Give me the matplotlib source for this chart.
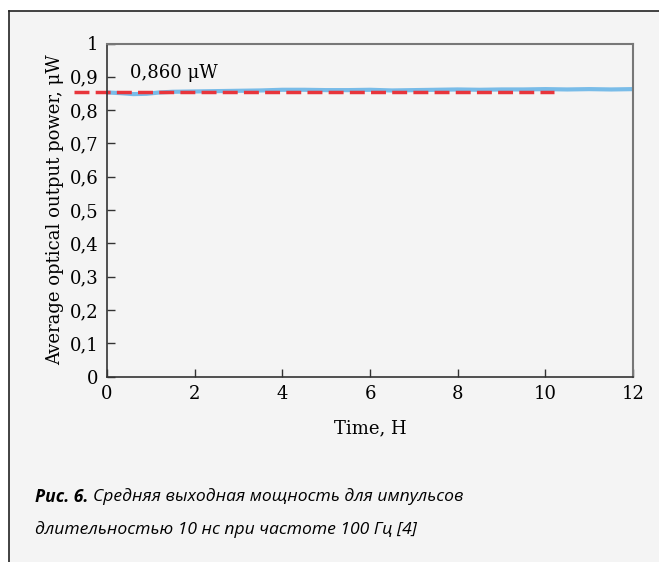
"""Средняя выходная мощность: воспроизведение рис. 6."""

import matplotlib
matplotlib.use("Agg")
import matplotlib.pyplot as plt
from matplotlib.lines import Line2D
from matplotlib.patches import Rectangle

# данные
time_h = [0, 0.3, 0.6, 0.9, 1.2, 1.5, 2, 2.5, 3, 3.5, 4, 4.5, 5, 5.5, 6, 6.5,
          7, 7.5, 8, 8.5, 9, 9.5, 10, 10.5, 11, 11.5, 12]
power = [0.853, 0.851, 0.848, 0.849, 0.853, 0.855, 0.856, 0.857, 0.858, 0.859,
         0.861, 0.861, 0.860, 0.860, 0.861, 0.859, 0.860, 0.861, 0.862, 0.861,
         0.862, 0.862, 0.863, 0.862, 0.863, 0.862, 0.863]
mean_x = [-0.75, 10.2]
mean_power = [0.855, 0.855]
mean_label = "0,860 μW"

x_ticks = [0, 2, 4, 6, 8, 10, 12]
y_ticks = [0, 0.1, 0.2, 0.3, 0.4, 0.5, 0.6, 0.7, 0.8, 0.9, 1.0]
y_tick_labels = ["0", "0,1", "0,2", "0,3", "0,4", "0,5", "0,6", "0,7", "0,8", "0,9", "1"]

BG = "#f4f4f4"
SERIF = ["DejaVu Serif"]
FS = 13

fig = plt.figure(figsize=(6.59, 5.62), dpi=100)
fig.patch.set_facecolor("white")

# серая подложка с рамкой сверху и слева
x0 = 9 / 659
y0 = 1 - 11 / 562
fig.patches.append(Rectangle((x0, 0), 1 - x0, y0, transform=fig.transFigure,
                             facecolor=BG, edgecolor="none", zorder=-5))
fig.add_artist(Line2D([x0, 1], [y0, y0], transform=fig.transFigure,
                      color="#222222", lw=1.2, zorder=-4))
fig.add_artist(Line2D([x0, x0], [0, y0], transform=fig.transFigure,
                      color="#222222", lw=1.2, zorder=-4))

ax = fig.add_axes([107 / 659, 1 - 376.5 / 562, 526 / 659, 333 / 562])
ax.set_facecolor(BG)

ax.plot(time_h, power, color="#5aaee6", lw=3, alpha=0.8, solid_capstyle="butt")
ax.plot(mean_x, mean_power, color="#e8353b", lw=2.5, dashes=(4.3, 1.8),
        clip_on=False)
ax.text(0.52, 0.911, mean_label, fontsize=FS, family=SERIF,
        ha="left", va="center")

ax.set_xlim(0, 12)
ax.set_ylim(0, 1)
ax.set_xticks(x_ticks)
ax.set_xticklabels([str(t) for t in x_ticks], family=SERIF, fontsize=FS)
ax.set_yticks(y_ticks)
ax.set_yticklabels(y_tick_labels, family=SERIF, fontsize=FS)
ax.tick_params(direction="in", length=6, width=1, color="#333333",
               top=False, right=False, pad=6)

for side in ["left", "bottom"]:
    ax.spines[side].set_color("#333333")
    ax.spines[side].set_linewidth(1.2)
for side in ["top", "right"]:
    ax.spines[side].set_color("#777777")
    ax.spines[side].set_linewidth(1.5)

ax.set_xlabel("Time, H", family=SERIF, fontsize=FS, labelpad=12)
ax.set_ylabel("Average optical output power, μW", family=SERIF, fontsize=FS,
              labelpad=4)

# подпись к рисунку
cap_font = ["Open Sans", "DejaVu Sans"]
cap_size = 12.6
head = fig.text(35 / 659, 1 - 497 / 562, "Рис. 6.", family=cap_font,
                fontsize=cap_size, style="italic", weight="bold",
                va="center", ha="left")
renderer = fig.canvas.get_renderer()
head_end = head.get_window_extent(renderer).x1 / fig.bbox.width
fig.text(head_end + 5 / 659, 1 - 497 / 562,
         "Средняя выходная мощность для импульсов",
         family=cap_font, fontsize=cap_size, style="italic", va="center", ha="left")
fig.text(35 / 659, 1 - 530 / 562, "длительностью 10 нс при частоте 100 Гц [4]",
         family=cap_font, fontsize=cap_size, style="italic", va="center", ha="left")

fig.savefig("out.png", dpi=100)
plt.close(fig)
